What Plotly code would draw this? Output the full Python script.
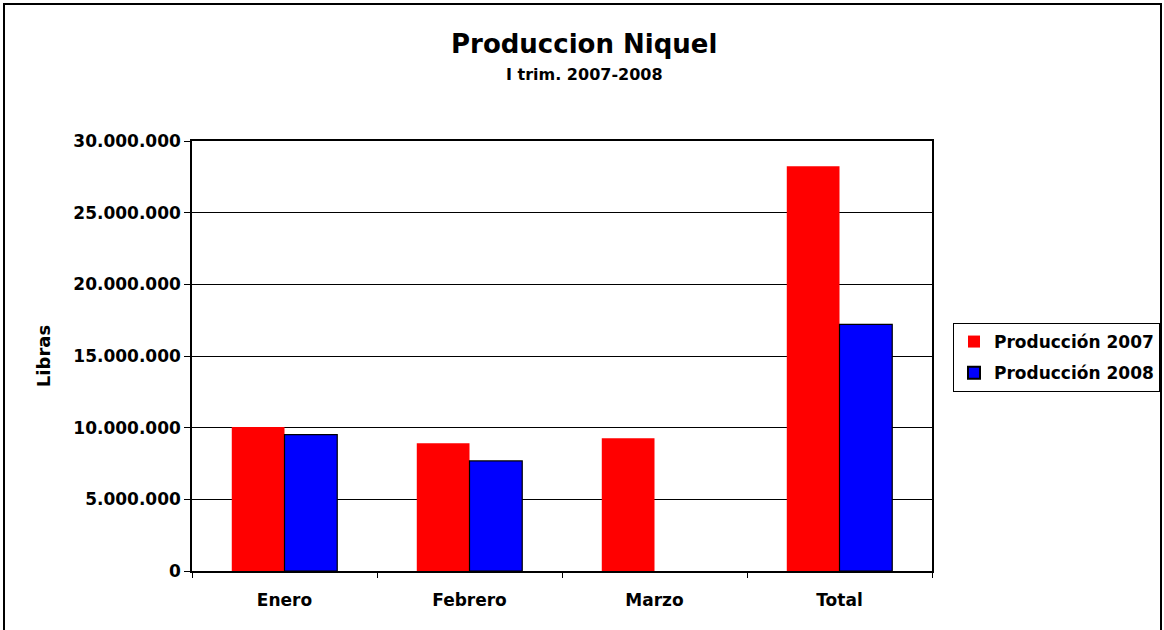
import plotly.graph_objects as go

categories = ["Enero", "Febrero", "Marzo", "Total"]
prod_2007 = [10050000, 8920000, 9270000, 28240000]
prod_2008 = [9520000, 7680000, None, 17200000]
y_ticks = [0, 5000000, 10000000, 15000000, 20000000, 25000000, 30000000]

FONT = "DejaVu Sans, Arial, sans-serif"

fig = go.Figure()
fig.add_trace(go.Bar(x=categories, y=prod_2007, name="Producción 2007", legendgroup="a",
                     marker=dict(color="#FF0000", line=dict(width=0))))
fig.add_trace(go.Bar(x=categories, y=prod_2008, name="Producción 2008", legendgroup="b",
                     marker=dict(color="#0000FF", line=dict(color="black", width=1.2))))

L, R, T, B = 192, 232, 141, 59
PW, PH = 1164 - L - R, 630 - T - B

def px(x):
    return (x - L) / PW

def py(y):
    return (630 - B - y) / PH

fig.update_layout(
    width=1164, height=630,
    margin=dict(l=L, r=R, t=T, b=B, autoexpand=False),
    paper_bgcolor="white", plot_bgcolor="white",
    font=dict(family=FONT, color="black"),
    separators=",.",
    barmode="group", bargap=0.43, bargroupgap=0,
    showlegend=True,
    legend=dict(x=px(953), y=py(323), xanchor="left", yanchor="top",
                bordercolor="black", borderwidth=1,
                font=dict(family=FONT, size=17, color="black", weight="bold"),
                itemsizing="constant", itemwidth=30, tracegroupgap=6),
    xaxis=dict(type="category", showgrid=False, showline=True, linecolor="black",
               linewidth=1.5, mirror=True, ticks="outside", tickson="boundaries",
               ticklen=5, tickcolor="black", ticklabelstandoff=13,
               tickfont=dict(family=FONT, size=17, color="black", weight="bold")),
    yaxis=dict(range=[0, 30000000], tickvals=y_ticks, tickformat=",d",
               showgrid=True, gridcolor="black", gridwidth=1,
               showline=True, linecolor="black", linewidth=1.5, mirror=True,
               ticks="outside", ticklen=6, tickcolor="black",
               tickfont=dict(family=FONT, size=17, color="black", weight="bold"),
               title=dict(text="Libras", standoff=18,
                          font=dict(family=FONT, size=18, color="black", weight="bold"))),
    annotations=[
        dict(text="<b>Produccion Niquel</b>", xref="paper", yref="paper",
             x=px(584), y=py(44), xanchor="center", yanchor="middle",
             showarrow=False, font=dict(family=FONT, size=26, color="black")),
        dict(text="<b>I trim. 2007-2008</b>", xref="paper", yref="paper",
             x=px(584), y=py(74), xanchor="center", yanchor="middle",
             showarrow=False, font=dict(family=FONT, size=16, color="black")),
    ],
    shapes=[
        dict(type="rect", xref="paper", yref="paper",
             x0=px(4), x1=px(1161), y0=py(640), y1=py(4),
             line=dict(color="black", width=2), fillcolor="rgba(0,0,0,0)", layer="above"),
    ],
)

fig.write_html("out.html", config={"displayModeBar": False},
               post_script="document.body.style.margin='0';")
